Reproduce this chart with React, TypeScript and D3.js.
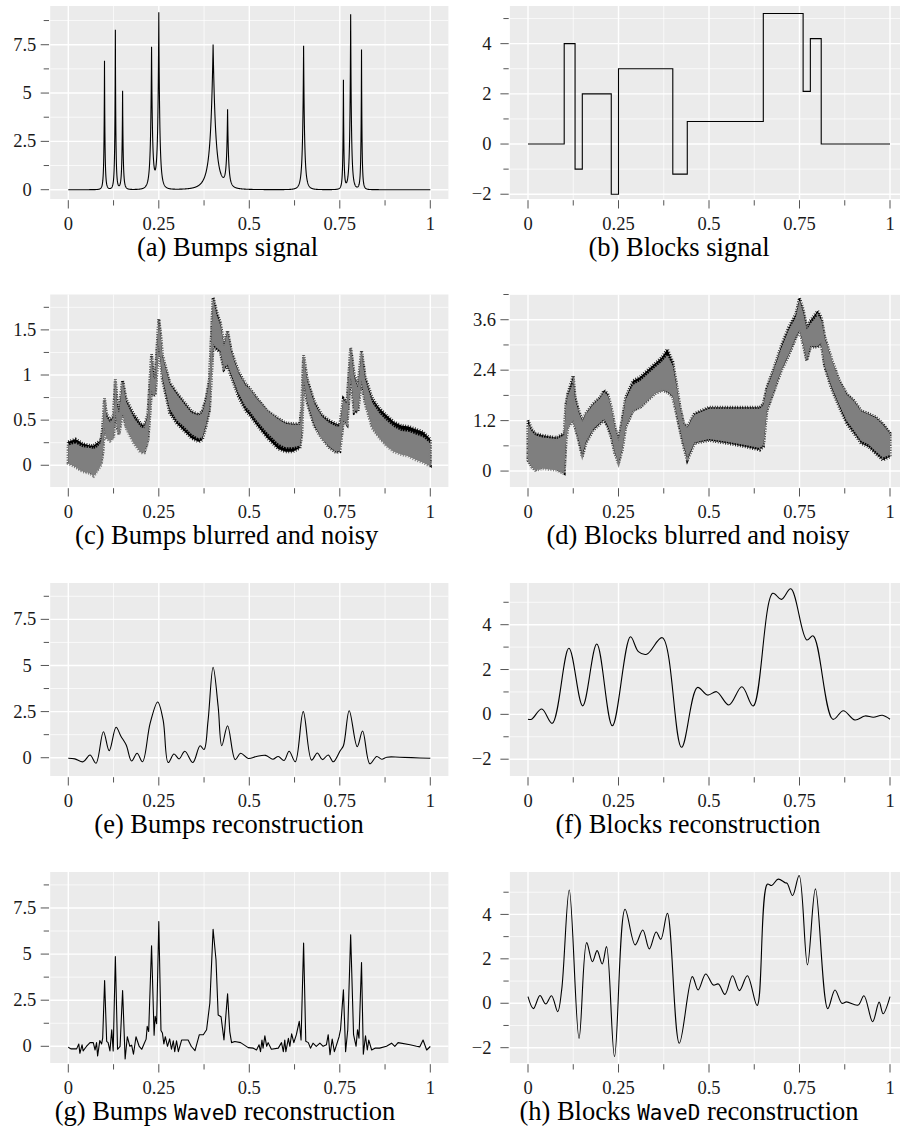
import React from 'react'
import * as d3 from 'd3'

// x axis (shared by all panels)
const xMajor = [0, 0.25, 0.5, 0.75, 1]
const xMinor = [0.125, 0.375, 0.625, 0.875]
const xLabels = ['0', '0.25', '0.5', '0.75', '1']

// Bumps: peak position, height, width
const bumpPos = [0.1, 0.13, 0.15, 0.23, 0.25, 0.4, 0.44, 0.65, 0.76, 0.78, 0.81]
const bumpHeight = [6.67, 8.25, 5.1, 7.28, 9.09, 7.5, 3.95, 7.45, 5.62, 9.07, 7.23]
const bumpWidth = [0.005, 0.005, 0.006, 0.01, 0.01, 0.028, 0.01, 0.01, 0.005, 0.008, 0.005]

// Blocks: jump positions and levels
const blockBreaks = [0, 0.1, 0.13, 0.15, 0.23, 0.25, 0.4, 0.44, 0.65, 0.76, 0.78, 0.81, 1]
const blockLevels = [0, 4, -1, 2, -2, 3, -1.2, 0.9, 5.2, 2.1, 4.2, 0, 0]

// blurred + noisy: [x, black low, black high, grey low, grey high]
const bumpsNoisy = [
  [0, 0.03, 0.26, 0.02, 0.22], [0.02, -0.01, 0.29, -0.02, 0.24], [0.04, -0.06, 0.24, -0.07, 0.2],
  [0.06, -0.08, 0.22, -0.09, 0.19], [0.07, -0.1, 0.22, -0.12, 0.18], [0.08, -0.04, 0.25, -0.06, 0.2],
  [0.09, 0.02, 0.28, 0, 0.25], [0.095, 0.13, 0.41, 0.12, 0.4], [0.1, 0.43, 0.74, 0.42, 0.72],
  [0.105, 0.32, 0.57, 0.3, 0.54], [0.115, 0.28, 0.5, 0.27, 0.47], [0.125, 0.32, 0.55, 0.3, 0.53],
  [0.13, 0.62, 0.95, 0.6, 0.93], [0.135, 0.43, 0.69, 0.42, 0.66], [0.14, 0.35, 0.62, 0.34, 0.58],
  [0.15, 0.6, 0.94, 0.58, 0.92], [0.16, 0.43, 0.73, 0.41, 0.7], [0.18, 0.28, 0.57, 0.25, 0.53],
  [0.2, 0.15, 0.46, 0.14, 0.42], [0.21, 0.15, 0.44, 0.14, 0.41], [0.22, 0.28, 0.57, 0.27, 0.55],
  [0.23, 0.84, 1.23, 0.83, 1.2], [0.235, 0.77, 1.0, 0.78, 0.98], [0.24, 0.78, 0.97, 0.78, 0.95],
  [0.25, 1.32, 1.62, 1.33, 1.6], [0.255, 1.13, 1.45, 1.16, 1.43], [0.26, 0.95, 1.22, 0.98, 1.2],
  [0.28, 0.58, 0.92, 0.63, 0.9], [0.3, 0.46, 0.8, 0.5, 0.78], [0.32, 0.38, 0.7, 0.43, 0.68],
  [0.34, 0.3, 0.6, 0.35, 0.58], [0.36, 0.26, 0.56, 0.3, 0.55], [0.37, 0.28, 0.6, 0.31, 0.58],
  [0.38, 0.42, 0.73, 0.45, 0.71], [0.39, 0.61, 0.95, 0.63, 0.93], [0.4, 1.32, 1.86, 1.34, 1.84],
  [0.41, 1.28, 1.7, 1.3, 1.66], [0.42, 1.25, 1.58, 1.27, 1.55], [0.43, 1.06, 1.34, 1.08, 1.32],
  [0.44, 1.1, 1.49, 1.12, 1.47], [0.45, 0.98, 1.27, 1.01, 1.25], [0.47, 0.76, 1.04, 0.8, 1.02],
  [0.49, 0.6, 0.9, 0.65, 0.88], [0.5, 0.56, 0.86, 0.61, 0.85], [0.52, 0.45, 0.75, 0.5, 0.74],
  [0.55, 0.3, 0.6, 0.36, 0.6], [0.58, 0.18, 0.52, 0.24, 0.51], [0.6, 0.15, 0.47, 0.2, 0.46],
  [0.62, 0.15, 0.46, 0.2, 0.45], [0.64, 0.19, 0.46, 0.22, 0.45], [0.645, 0.35, 0.65, 0.37, 0.63],
  [0.65, 0.95, 1.22, 0.96, 1.2], [0.66, 0.69, 0.95, 0.71, 0.93], [0.68, 0.43, 0.7, 0.45, 0.68],
  [0.7, 0.3, 0.56, 0.3, 0.54], [0.72, 0.2, 0.5, 0.21, 0.47], [0.74, 0.14, 0.46, 0.15, 0.43],
  [0.75, 0.15, 0.45, 0.16, 0.43], [0.76, 0.5, 0.74, 0.5, 0.72], [0.77, 0.45, 0.7, 0.46, 0.68],
  [0.78, 1.0, 1.3, 1.0, 1.28], [0.79, 0.58, 1.0, 0.6, 0.97], [0.8, 0.6, 0.88, 0.61, 0.86],
  [0.81, 0.93, 1.27, 0.94, 1.24], [0.82, 0.69, 0.98, 0.69, 0.95], [0.84, 0.42, 0.74, 0.41, 0.69],
  [0.86, 0.32, 0.63, 0.3, 0.57], [0.88, 0.23, 0.55, 0.21, 0.49], [0.9, 0.17, 0.48, 0.15, 0.42],
  [0.92, 0.14, 0.44, 0.12, 0.38], [0.94, 0.12, 0.43, 0.1, 0.37], [0.96, 0.08, 0.4, 0.06, 0.34],
  [0.98, 0.05, 0.37, 0.03, 0.31], [1, 0, 0.29, -0.01, 0.24],
]

const blocksNoisy = [
  [0, 0.26, 1.21, 0.25, 1.1], [0.01, 0.11, 1.0, 0.1, 0.95], [0.02, 0.03, 0.9, 0.02, 0.85],
  [0.04, 0.1, 0.85, 0.06, 0.8], [0.06, 0.08, 0.82, 0.04, 0.78], [0.08, 0.05, 0.8, 0.02, 0.76],
  [0.1, -0.05, 0.9, -0.06, 0.85], [0.105, 0.73, 1.6, 0.72, 1.55], [0.11, 1.05, 1.84, 1.05, 1.8],
  [0.125, 1.2, 2.27, 1.2, 2.1], [0.13, 1.05, 1.76, 1.05, 1.7], [0.14, 0.73, 1.44, 0.75, 1.4],
  [0.15, 0.34, 1.21, 0.4, 1.18], [0.16, 0.66, 1.37, 0.7, 1.35], [0.18, 0.97, 1.6, 1.0, 1.58],
  [0.2, 1.13, 1.76, 1.16, 1.74], [0.21, 1.21, 1.92, 1.24, 1.88], [0.22, 1.05, 1.84, 1.1, 1.8],
  [0.23, 0.81, 1.52, 0.85, 1.5], [0.24, 0.42, 1.05, 0.45, 1.03], [0.25, 0.18, 0.73, 0.2, 0.72],
  [0.26, 0.5, 1.21, 0.52, 1.18], [0.27, 1.05, 1.76, 1.06, 1.7], [0.29, 1.44, 2.15, 1.44, 2.05],
  [0.31, 1.52, 2.24, 1.52, 2.14], [0.33, 1.68, 2.4, 1.68, 2.3], [0.35, 1.84, 2.55, 1.84, 2.45],
  [0.37, 1.92, 2.71, 1.92, 2.6], [0.385, 1.88, 2.9, 1.9, 2.75], [0.4, 1.76, 2.6, 1.78, 2.5],
  [0.41, 1.37, 2.08, 1.4, 2.02], [0.42, 0.97, 1.52, 1.0, 1.5], [0.43, 0.58, 1.13, 0.62, 1.12],
  [0.44, 0.26, 1.05, 0.32, 1.03], [0.46, 0.66, 1.37, 0.68, 1.34], [0.5, 0.73, 1.52, 0.76, 1.48],
  [0.55, 0.66, 1.52, 0.7, 1.48], [0.6, 0.58, 1.52, 0.62, 1.48], [0.64, 0.5, 1.52, 0.55, 1.48],
  [0.65, 0.58, 1.6, 0.62, 1.56], [0.66, 1.44, 1.99, 1.45, 1.96], [0.68, 1.92, 2.47, 1.93, 2.42],
  [0.7, 2.4, 2.99, 2.42, 2.92], [0.72, 2.75, 3.42, 2.77, 3.35], [0.74, 3.18, 3.74, 3.2, 3.66],
  [0.75, 3.34, 4.12, 3.36, 4.05], [0.76, 3.03, 3.85, 3.05, 3.78], [0.77, 2.63, 3.42, 2.66, 3.36],
  [0.78, 2.95, 3.58, 2.97, 3.5], [0.8, 2.95, 3.81, 2.97, 3.7], [0.81, 3.03, 3.66, 3.05, 3.6],
  [0.82, 2.47, 3.18, 2.5, 3.15], [0.84, 1.92, 2.63, 1.98, 2.62], [0.86, 1.52, 2.15, 1.58, 2.14],
  [0.88, 1.13, 1.84, 1.2, 1.82], [0.9, 0.9, 1.68, 0.97, 1.66], [0.92, 0.66, 1.44, 0.72, 1.42],
  [0.94, 0.58, 1.37, 0.64, 1.35], [0.96, 0.42, 1.29, 0.48, 1.27], [0.98, 0.26, 1.13, 0.32, 1.1],
  [1, 0.34, 0.9, 0.38, 0.88],
]

// reconstructions: [x, y]
const bumpsRecon = [
  [0, -0.03], [0.018, -0.06], [0.041, -0.22], [0.06, 0.15], [0.0765, -0.3], [0.097, 1.41],
  [0.113, 0.38], [0.132, 1.65], [0.145, 1.18], [0.16, 0.69], [0.175, -0.18], [0.19, 0.24],
  [0.205, -0.22], [0.226, 1.86], [0.247, 3.02], [0.262, 2.04], [0.276, -0.26], [0.292, 0.2],
  [0.306, -0.06], [0.322, 0.35], [0.344, -0.26], [0.364, 0.65], [0.375, 0.45], [0.386, 2.0],
  [0.4, 4.9], [0.414, 2.76], [0.424, 0.65], [0.44, 1.73], [0.461, -0.1], [0.476, 0.24],
  [0.497, -0.04], [0.52, 0.07], [0.545, 0.13], [0.565, -0.08], [0.58, 0.07], [0.596, -0.15],
  [0.61, 0.35], [0.627, -0.22], [0.649, 2.5], [0.672, -0.13], [0.688, 0.26], [0.702, -0.1],
  [0.718, 0.15], [0.732, -0.22], [0.751, 0.38], [0.76, 0.65], [0.776, 2.55], [0.798, 0.6],
  [0.813, 1.45], [0.833, -0.33], [0.852, 0.07], [0.866, -0.08], [0.88, 0.03], [0.916, 0.03],
  [1, -0.03],
]

const blocksRecon = [
  [0, -0.22], [0.01, -0.22], [0.038, 0.24], [0.067, -0.4], [0.113, 2.95], [0.151, 0.38],
  [0.19, 3.14], [0.233, -0.51], [0.283, 3.46], [0.305, 2.8], [0.328, 2.68], [0.371, 3.42],
  [0.424, -1.47], [0.468, 1.2], [0.496, 0.86], [0.521, 1.01], [0.555, 0.42], [0.591, 1.23],
  [0.622, 0.37], [0.676, 5.4], [0.7, 5.13], [0.726, 5.6], [0.77, 3.32], [0.788, 3.5],
  [0.842, -0.22], [0.871, 0.16], [0.903, -0.25], [0.931, -0.07], [0.954, -0.13],
  [0.979, -0.04], [1, -0.22],
]

const bumpsWaved = [
  [0, -0.05], [0.007, -0.14], [0.023, -0.14], [0.029, 0.12], [0.032, -0.38], [0.038, 0.08],
  [0.041, -0.25], [0.05, -0.01], [0.06, 0.2], [0.069, 0.2], [0.074, -0.2], [0.078, 0.2],
  [0.081, -0.52], [0.087, 0.31], [0.092, 0.13], [0.095, 0.44], [0.1003, 3.56], [0.106, 0.27],
  [0.11, 0.2], [0.115, -0.25], [0.12, 0.89], [0.124, -0.25], [0.13, 4.86], [0.136, -0.16],
  [0.143, -0.01], [0.15, 3.02], [0.157, -0.69], [0.163, 0.52], [0.17, 0.0], [0.175, 0.06],
  [0.18, -0.43], [0.187, 0.52], [0.196, -0.01], [0.203, -0.16], [0.21, 0.17], [0.215, 0.39],
  [0.218, 1.08], [0.222, 0.8], [0.23, 5.45], [0.237, 0.6], [0.24, 1.63], [0.244, 1.23],
  [0.25, 6.77], [0.256, 0.86], [0.26, 0.72], [0.264, 0.13], [0.268, 0.52], [0.274, 0.0],
  [0.28, 0.4], [0.285, -0.16], [0.29, 0.3], [0.294, -0.29], [0.299, 0.3], [0.304, -0.29],
  [0.313, 0.34], [0.331, 0.34], [0.34, -0.01], [0.35, -0.23], [0.362, 0.63], [0.373, 0.63],
  [0.382, 0.9], [0.391, 2.35], [0.4, 6.35], [0.408, 4.69], [0.414, 1.7], [0.422, 1.6],
  [0.43, 0.35], [0.44, 2.85], [0.446, 0.8], [0.451, 0.2], [0.46, 0.26], [0.476, 0.2],
  [0.497, -0.07], [0.511, -0.1], [0.52, -0.2], [0.527, 0.08], [0.531, -0.29], [0.535, 0.34],
  [0.538, -0.1], [0.543, 0.57], [0.548, 0.0], [0.552, 0.2], [0.561, -0.16], [0.58, -0.1],
  [0.589, 0.2], [0.594, -0.29], [0.598, 0.34], [0.601, -0.29], [0.608, 0.43], [0.612, 0.0],
  [0.617, 0.68], [0.623, 0.2], [0.63, 0.63], [0.638, 1.35], [0.643, 0.34], [0.65, 5.6],
  [0.656, 0.27], [0.663, 0.2], [0.669, -0.1], [0.676, 0.17], [0.685, 0.0], [0.695, 0.17],
  [0.704, 0.0], [0.713, 0.08], [0.718, 0.63], [0.723, -0.45], [0.729, 0.39], [0.735, -0.29],
  [0.741, 0.08], [0.748, 0.52], [0.752, 0.9], [0.76, 3.07], [0.766, -0.29], [0.772, 0.9],
  [0.78, 6.05], [0.788, 0.63], [0.795, 0.0], [0.799, 0.9], [0.803, 0.44], [0.81, 4.54],
  [0.815, -0.43], [0.821, 0.57], [0.826, -0.2], [0.83, 0.34], [0.838, -0.2], [0.847, -0.1],
  [0.86, -0.1], [0.879, 0.0], [0.893, 0.17], [0.902, 0.0], [0.911, 0.2], [0.944, 0.08],
  [0.962, 0.0], [0.971, -0.03], [0.98, 0.34], [0.99, -0.2], [1, -0.01],
]

const blocksWaved = [
  [0, 0.3], [0.015, -0.24], [0.033, 0.35], [0.049, -0.03], [0.065, 0.34], [0.082, -0.38],
  [0.093, 0.6], [0.114, 5.1], [0.141, -1.58], [0.162, 2.73], [0.178, 1.87], [0.191, 2.37],
  [0.205, 1.77], [0.217, 2.55], [0.239, -2.4], [0.268, 4.23], [0.296, 2.63], [0.317, 3.3],
  [0.335, 2.45], [0.354, 3.21], [0.367, 2.88], [0.385, 4.05], [0.418, -1.8], [0.454, 1.2],
  [0.47, 0.6], [0.491, 1.32], [0.512, 0.82], [0.526, 0.87], [0.544, 0.4], [0.565, 1.24],
  [0.584, 0.57], [0.606, 1.24], [0.633, -0.1], [0.661, 5.36], [0.673, 5.3], [0.691, 5.59],
  [0.71, 5.43], [0.716, 5.4], [0.731, 4.85], [0.749, 5.75], [0.772, 1.73], [0.794, 5.15],
  [0.828, -0.24], [0.848, 0.6], [0.867, 0.0], [0.88, 0.06], [0.912, -0.08], [0.928, 0.34],
  [0.952, -0.83], [0.97, 0.05], [0.981, -0.47], [1, 0.3],
]

// y axes
const bumpTicks = { major: [0, 2.5, 5, 7.5], minor: [1.25, 3.75, 6.25, 8.75], labels: ['0', '2.5', '5', '7.5'] }
const blockTicks = { major: [-2, 0, 2, 4], minor: [-1, 1, 3, 5], labels: ['\u22122', '0', '2', '4'] }
const noisyBumpTicks = { major: [0, 0.5, 1, 1.5], minor: [0.25, 0.75, 1.25, 1.75], labels: ['0', '0.5', '1', '1.5'] }
const noisyBlockTicks = { major: [0, 1.2, 2.4, 3.6], minor: [0.6, 1.8, 3, 4.2], labels: ['0', '1.2', '2.4', '3.6'] }

// layout
const COL_X = [[68.3, 430.3], [528, 890]]
const ROW_TOP = [6, 294.5, 583, 872]
const ROW_H = [193, 192.5, 193, 191]
const SERIF = '"Liberation Serif", "Times New Roman", serif'
const MONO = '"DejaVu Sans Mono", "Liberation Mono", monospace'
const TICK_FS = 18.5
const CAP_FS = 26.5

// sample grid, with the bump centres included so the peaks are not cut
const bumpGrid = d3.sort(d3.range(2048).map((i) => i / 2047).concat(bumpPos))
const bumpsSignal = bumpGrid.map((t) => {
  let v = 0
  for (let j = 0; j < bumpPos.length; j++) {
    v += bumpHeight[j] * Math.pow(1 + Math.abs(t - bumpPos[j]) / bumpWidth[j], -4)
  }
  return [t, v]
})

const blocksSignal = blockBreaks.map((b, i) => [b, blockLevels[i]])

const panels = [
  { id: 'a', col: 0, row: 0, yDomain: [-0.481, 9.503], ticks: bumpTicks, capX: 227.5, cap: ['(a) Bumps signal'] },
  { id: 'b', col: 1, row: 0, yDomain: [-2.19, 5.5], ticks: blockTicks, capX: 679, cap: ['(b) Blocks signal'] },
  { id: 'c', col: 0, row: 1, yDomain: [-0.241, 1.892], ticks: noisyBumpTicks, capX: 226.7, cap: ['(c) Bumps blurred and noisy'] },
  { id: 'd', col: 1, row: 1, yDomain: [-0.379, 4.2], ticks: noisyBlockTicks, capX: 698, cap: ['(d) Blocks blurred and noisy'] },
  { id: 'e', col: 0, row: 2, yDomain: [-0.99, 9.47], ticks: bumpTicks, capX: 229, cap: ['(e) Bumps reconstruction'] },
  { id: 'f', col: 1, row: 2, yDomain: [-2.75, 5.86], ticks: blockTicks, capX: 688, cap: ['(f) Blocks reconstruction'] },
  { id: 'g', col: 0, row: 3, yDomain: [-0.905, 9.45], ticks: bumpTicks, capX: 225, cap: ['(g) Bumps ', 'WaveD', ' reconstruction'] },
  { id: 'h', col: 1, row: 3, yDomain: [-2.69, 5.91], ticks: blockTicks, capX: 689, cap: ['(h) Blocks ', 'WaveD', ' reconstruction'] },
]

function digitWidth(s) {
  let w = 0
  for (const ch of s) {
    if (ch >= '0' && ch <= '9') w += 0.5
    else if (ch === '.') w += 0.25
  }
  return w * TICK_FS
}

function Panel({ p }) {
  const [x0, x1] = COL_X[p.col]
  const top = ROW_TOP[p.row]
  const h = ROW_H[p.row]
  const x = d3.scaleLinear().domain([0, 1]).range([x0, x1])
  const y = d3.scaleLinear().domain(p.yDomain).range([top + h, top])
  const left = x(-0.05)
  const right = x(1.05)
  const bottom = top + h
  const clipId = 'clip-' + p.id

  const line = d3.line().x((d) => x(d[0])).y((d) => y(d[1]))
  let marks = null
  if (p.id === 'a') {
    marks = <path d={line(bumpsSignal)} fill="none" stroke="#000" strokeWidth={1.1} />
  } else if (p.id === 'b') {
    const step = d3.line().x((d) => x(d[0])).y((d) => y(d[1])).curve(d3.curveStepAfter)
    marks = <path d={step(blocksSignal)} fill="none" stroke="#000" strokeWidth={1.1} />
  } else if (p.id === 'c' || p.id === 'd') {
    const rows = p.id === 'c' ? bumpsNoisy : blocksNoisy
    const black = d3.area().x((d) => x(d[0])).y0((d) => y(d[1])).y1((d) => y(d[2]))
    const grey = d3.area().x((d) => x(d[0])).y0((d) => y(d[3])).y1((d) => y(d[4]))
    marks = (
      <g>
        <path d={black(rows)} fill="#000" stroke="#000" strokeWidth={3} strokeDasharray="0.8 1.7" />
        <path d={grey(rows)} fill="#7f7f7f" stroke="#7f7f7f" strokeWidth={3.2} strokeDasharray="1 1.6" />
      </g>
    )
  } else if (p.id === 'g') {
    marks = <path d={line(bumpsWaved)} fill="none" stroke="#000" strokeWidth={1.1} strokeLinejoin="round" />
  } else {
    const data = p.id === 'e' ? bumpsRecon : p.id === 'f' ? blocksRecon : blocksWaved
    const smooth = d3.line().x((d) => x(d[0])).y((d) => y(d[1])).curve(d3.curveCatmullRom.alpha(0.5))
    marks = <path d={smooth(data)} fill="none" stroke="#000" strokeWidth={1.1} />
  }

  const yMinor = p.ticks.minor.filter((v) => v >= p.yDomain[0] && v <= p.yDomain[1] + 0.01)
  const tickColor = '#555'
  const anchorX = left - 21.5

  return (
    <g>
      <defs>
        <clipPath id={clipId}>
          <rect x={left} y={top} width={right - left} height={h} />
        </clipPath>
      </defs>
      <rect x={left} y={top} width={right - left} height={h} fill="#EBEBEB" />
      {yMinor.map((v) => (
        <line key={'hm' + v} x1={left} x2={right} y1={y(v)} y2={y(v)} stroke="#fff" strokeWidth={0.7} />
      ))}
      {xMinor.map((v) => (
        <line key={'vm' + v} x1={x(v)} x2={x(v)} y1={top} y2={bottom} stroke="#fff" strokeWidth={0.7} />
      ))}
      {p.ticks.major.map((v) => (
        <line key={'hM' + v} x1={left} x2={right} y1={y(v)} y2={y(v)} stroke="#fff" strokeWidth={1.4} />
      ))}
      {xMajor.map((v) => (
        <line key={'vM' + v} x1={x(v)} x2={x(v)} y1={top} y2={bottom} stroke="#fff" strokeWidth={1.4} />
      ))}
      <g clipPath={`url(#${clipId})`}>{marks}</g>

      {p.ticks.major.map((v) => (
        <line key={'ytM' + v} x1={left - 9.5} x2={left - 1.2} y1={y(v)} y2={y(v)} stroke={tickColor} strokeWidth={1} />
      ))}
      {yMinor.map((v) => (
        <line key={'ytm' + v} x1={left - 6.5} x2={left - 1.2} y1={y(v)} y2={y(v)} stroke={tickColor} strokeWidth={1} />
      ))}
      {xMajor.map((v) => (
        <line key={'xtM' + v} x1={x(v)} x2={x(v)} y1={bottom + 1.2} y2={bottom + 9.5} stroke={tickColor} strokeWidth={1} />
      ))}
      {xMinor.map((v) => (
        <line key={'xtm' + v} x1={x(v)} x2={x(v)} y1={bottom + 1.2} y2={bottom + 6.5} stroke={tickColor} strokeWidth={1} />
      ))}

      {p.ticks.major.map((v, i) => (
        <text
          key={'yl' + v}
          x={anchorX + 0.33 * digitWidth(p.ticks.labels[i])}
          y={y(v) + 0.33 * TICK_FS}
          textAnchor="end"
          fontSize={TICK_FS}
          fill="#1a1a1a"
        >
          {p.ticks.labels[i]}
        </text>
      ))}
      {xMajor.map((v, i) => (
        <text key={'xl' + v} x={x(v)} y={bottom + 31} textAnchor="middle" fontSize={TICK_FS} fill="#1a1a1a">
          {xLabels[i]}
        </text>
      ))}

      <text x={p.capX} y={bottom + 57} textAnchor="middle" fontSize={CAP_FS} fill="#000">
        {p.cap.map((s, i) =>
          i === 1 ? (
            <tspan key={i} fontFamily={MONO} fontSize={21}>
              {s}
            </tspan>
          ) : (
            <tspan key={i}>{s}</tspan>
          )
        )}
      </text>
    </g>
  )
}

export default function App() {
  return (
    <svg
      width={900}
      height={1134}
      viewBox="0 0 900 1134"
      style={{ position: 'absolute', left: 0, top: 0, background: '#fff', fontFamily: SERIF }}
    >
      {panels.map((p) => (
        <Panel key={p.id} p={p} />
      ))}
    </svg>
  )
}
